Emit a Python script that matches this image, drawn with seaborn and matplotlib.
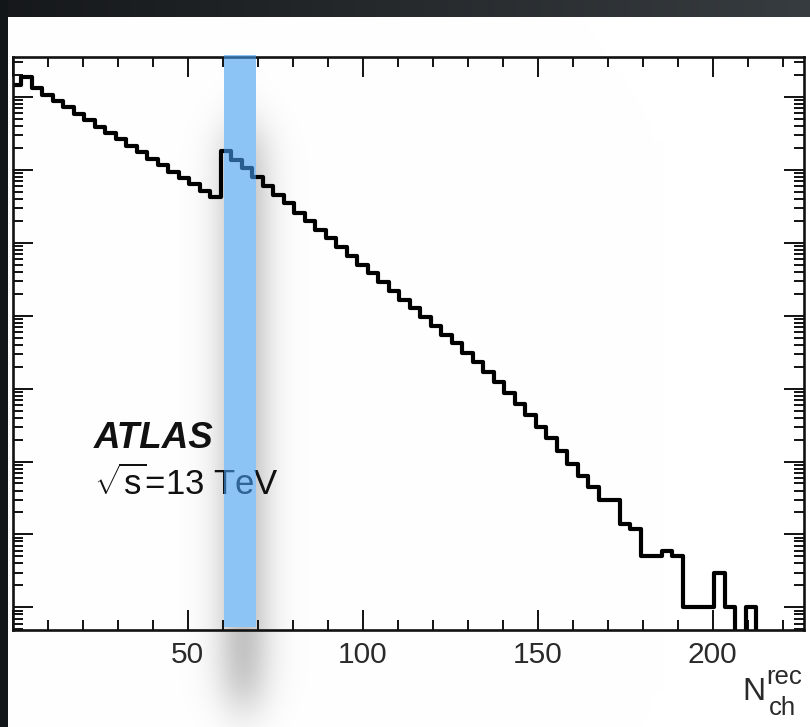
import numpy as np
import pandas as pd
import matplotlib
matplotlib.use("Agg")
import matplotlib.pyplot as plt
from matplotlib.ticker import LogLocator, MultipleLocator, NullFormatter
import seaborn as sns

# ---- data: reconstructed-track multiplicity, 3-unit bins ----
bin_edges = [float(e) for e in np.arange(-0.5, 228.0, 3.0)]
bin_centers = [e + 1.5 for e in bin_edges[:-1]]
counts = [
    1.46e7, 1.91e7, 1.32e7, 1.07e7, 8.8e6, 7.2e6, 5.9e6, 4.8e6, 3.93e6, 3.21e6,
    2.63e6, 2.14e6, 1.75e6, 1.43e6, 1.17e6, 9.5e5, 7.8e5, 6.4e5, 5.2e5, 4.3e5,
    1.82e6, 1.38e6, 1.05e6, 7.9e5, 6.0e5, 4.6e5, 3.5e5, 2.6e5, 2.0e5, 1.51e5,
    1.15e5, 8.7e4, 6.6e4, 5.0e4, 3.8e4, 2.9e4, 2.2e4, 1.66e4, 1.26e4, 9.5e3,
    7.2e3, 5.5e3, 4.2e3, 3.1e3, 2.3e3, 1.7e3, 1.23e3, 880, 624, 437,
    302, 207, 140, 93, 63, 45, 30, 30, 14, 12,
    5, 5, 6, 5, 1, 1, 1, 3, 1, 0,
    1, 0, 0, 0, 0, 0,
]
x_ticks = [0, 50, 100, 150, 200]
x_tick_labels = ["", "50", "100", "150", "200"]
highlight_range = (60.4, 69.4)

hist_df = pd.DataFrame({"nch": bin_centers, "events": counts})

W, H = 810, 727
sns.set_theme(style="white")
plt.rcParams["font.family"] = ["Liberation Sans", "DejaVu Sans"]
plt.rcParams["mathtext.fontset"] = "custom"
plt.rcParams["mathtext.rm"] = "Liberation Sans"
plt.rcParams["mathtext.it"] = "Liberation Sans:italic"
plt.rcParams["mathtext.bf"] = "Liberation Sans:bold"

fig = plt.figure(figsize=(W / 100, H / 100), dpi=100)

# ---- slide backdrop: dark frame, white page, soft shadow under the marker bar ----
yy, xx = np.mgrid[0:H, 0:W].astype(float)
bg = np.ones((H, W, 3))
top_grad = np.linspace(0.0, 1.0, W)
dark_top = np.stack([0.085 + 0.13 * top_grad, 0.095 + 0.14 * top_grad, 0.105 + 0.145 * top_grad], axis=-1)
bg[:17, :, :] = dark_top[None, :, :]
bg[:, :8, :] = np.array([0.075, 0.09, 0.10])


def soft_box(c, a, b, s):
    return 1.0 / (1.0 + np.exp(-(c - a) / s)) - 1.0 / (1.0 + np.exp(-(c - b) / s))


shade = 0.38 * soft_box(xx, 227, 259, 11.0) * soft_box(yy, 130, 702, 16.0)
page = (xx >= 8) & (yy >= 17)
bg[page] = bg[page] * (1.0 - shade[page][:, None])

bg_ax = fig.add_axes([0, 0, 1, 1], zorder=0)
bg_ax.imshow(bg, extent=(0, W, H, 0), aspect="auto", interpolation="bilinear")
bg_ax.set_axis_off()

# ---- histogram panel ----
left, right, top, bottom = 12.7, 804.0, 57.3, 630.0
ax = fig.add_axes([left / W, 1 - bottom / H, (right - left) / W, (bottom - top) / H], zorder=1)
ax.set_facecolor("none")

sns.histplot(data=hist_df, x="nch", weights="events", bins=bin_edges, element="step", fill=False,
             color="black", linewidth=3.0, ax=ax)
ax.set_yscale("log", nonpositive="clip")
ax.set_xlim(0, 226.1)
ax.set_ylim(10 ** -0.311, 10 ** 7.545)
ax.set_ylabel("")
ax.set_xlabel("")

for sp in ax.spines.values():
    sp.set_linewidth(1.9)
    sp.set_color("#111111")
    sp.set_visible(True)

ax.set_xticks(x_ticks)
ax.set_xticklabels(x_tick_labels)
ax.xaxis.set_minor_locator(MultipleLocator(10))
ax.yaxis.set_major_locator(LogLocator(base=10, numticks=100))
ax.yaxis.set_minor_locator(LogLocator(base=10, subs=np.arange(2, 10), numticks=100))
ax.yaxis.set_minor_formatter(NullFormatter())
ax.tick_params(which="both", direction="in", top=True, right=True, bottom=True, left=True,
               color="#111111", width=1.4, labelleft=False)
ax.tick_params(which="major", length=14.5)
ax.tick_params(which="minor", length=7.2)
ax.tick_params(axis="x", which="major", labelsize=21.5, pad=8, labelcolor="#2a2a2a")

# marker bar over the threshold region: opaque backing, then translucent blue on top
band_kw = dict(ymin=3 / 573, ymax=1 + 2.5 / 573, lw=0, clip_on=False)
ax.axvspan(*highlight_range, color="white", zorder=0.5, **band_kw)
ax.axvspan(*highlight_range, color=(0.26, 0.62, 0.94), alpha=0.6, zorder=6, **band_kw)


def fpx(x, y):
    return x / W, 1 - y / H


ax.text(*fpx(94, 448), "ATLAS", transform=fig.transFigure, fontsize=26.5, fontweight="bold",
        fontstyle="italic", color="#111111", va="baseline", ha="left", zorder=3)
ax.text(*fpx(94, 495), r"$\sqrt{\mathrm{s}}$=13 TeV", transform=fig.transFigure, fontsize=25,
        color="#111111", va="baseline", ha="left", zorder=3)

# axis title N_ch^rec, built from three pieces
ax.text(*fpx(742, 700), "N", transform=fig.transFigure, fontsize=23,
        color="#2a2a2a", va="baseline", ha="left", zorder=3)
ax.text(*fpx(766, 684), "rec", transform=fig.transFigure, fontsize=18.5,
        color="#2a2a2a", va="baseline", ha="left", zorder=3)
ax.text(*fpx(769, 715), "ch", transform=fig.transFigure, fontsize=18.5,
        color="#2a2a2a", va="baseline", ha="left", zorder=3)

fig.savefig("out.png", dpi=100)
